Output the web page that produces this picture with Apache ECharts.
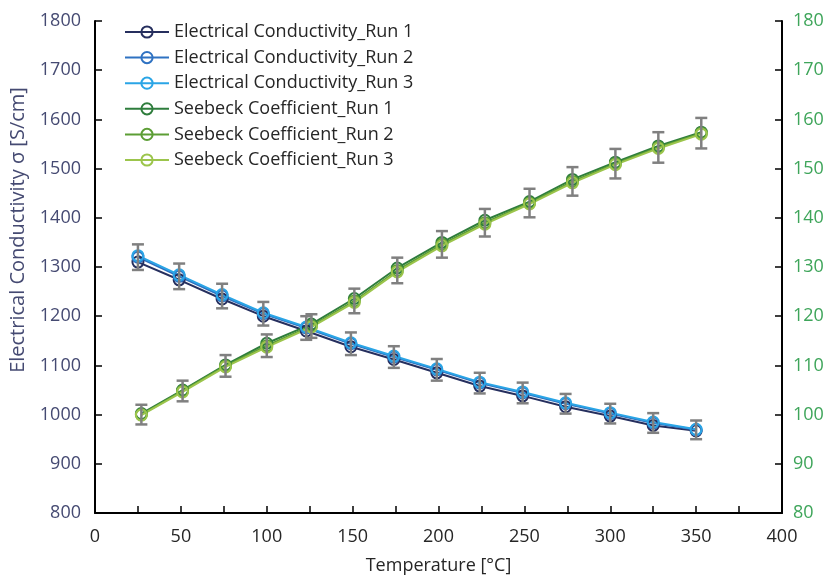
<!DOCTYPE html>
<html>
<head>
<meta charset="utf-8">
<script src="https://cdn.jsdelivr.net/npm/echarts@6/dist/echarts.min.js"></script>
<style>
html,body{margin:0;padding:0;background:#fff;}
#chart{width:827px;height:583px;}
</style>
</head>
<body>
<div id="chart"></div>
<script>
// Temperature (°C) for each quantity
var ecTemp = [25, 49, 74, 98, 123, 149, 174, 199, 224, 249, 274, 300, 325, 350];
var sbTemp = [27, 51, 76, 100, 126, 151, 176, 202, 227, 253, 278, 303, 328, 353];

// Electrical conductivity [S/cm]
var ecRun1 = [1310, 1274, 1235, 1200, 1170, 1138, 1112, 1085, 1058, 1038, 1016, 997, 978, 967];
var ecRun2 = [1320, 1281, 1241, 1205, 1176, 1144, 1117, 1091, 1064, 1044, 1022, 1002, 983, 969];
var ecRun3 = [1323, 1284, 1244, 1207, 1178, 1146, 1119, 1093, 1066, 1046, 1024, 1004, 985, 970];
var ecErr  = [26, 26, 25, 24, 24, 23, 22, 22, 21, 21, 20, 20, 20, 19];

// Seebeck coefficient
var sbRun1 = [100.2, 105.0, 110.1, 114.5, 118.4, 123.6, 129.8, 135.0, 139.5, 143.3, 147.8, 151.3, 154.6, 157.4];
var sbRun2 = [100.0, 104.8, 109.9, 114.0, 118.0, 123.1, 129.3, 134.6, 139.0, 143.0, 147.4, 151.0, 154.3, 157.2];
var sbRun3 = [99.9, 104.6, 109.7, 113.7, 117.8, 122.8, 129.0, 134.3, 138.7, 142.8, 147.1, 150.8, 154.1, 157.0];
var sbErr  = [2.0, 2.1, 2.2, 2.3, 2.4, 2.5, 2.6, 2.7, 2.8, 2.9, 2.9, 3.0, 3.1, 3.1];

var seriesNames = [
  'Electrical Conductivity_Run 1', 'Electrical Conductivity_Run 2', 'Electrical Conductivity_Run 3',
  'Seebeck Coefficient_Run 1', 'Seebeck Coefficient_Run 2', 'Seebeck Coefficient_Run 3'
];
var seriesColors = ['#262f5e', '#2f72c2', '#2aa5e6', '#2e7d3c', '#5c9e35', '#9cc54c'];

var FONT = 'Open Sans';
var leftColor = '#454a72';
var rightColor = '#3ea55a';

function pairs(xs, ys) { return xs.map(function (x, i) { return [x, ys[i]]; }); }
function errData(xs, ys, es) { return xs.map(function (x, i) { return [x, ys[i] - es[i], ys[i] + es[i]]; }); }

function lineSeries(idx, xs, ys, axis) {
  return {
    name: seriesNames[idx], type: 'line', yAxisIndex: axis,
    data: pairs(xs, ys),
    symbol: 'circle', symbolSize: 11, showSymbol: true,
    lineStyle: { width: 2, color: seriesColors[idx] },
    itemStyle: { color: 'rgba(255,255,255,0)', borderColor: seriesColors[idx], borderWidth: 2 },
    z: 3, animation: false
  };
}

function errSeries(data, axis) {
  return {
    type: 'custom', yAxisIndex: axis, data: data, z: 5, animation: false,
    renderItem: function (params, api) {
      var x = api.value(0);
      var lo = api.coord([x, api.value(1)]);
      var hi = api.coord([x, api.value(2)]);
      var hw = 6;
      var st = { stroke: '#808080', lineWidth: 2.5 };
      return {
        type: 'group', children: [
          { type: 'line', shape: { x1: hi[0], y1: hi[1], x2: lo[0], y2: lo[1] }, style: st },
          { type: 'line', shape: { x1: hi[0] - hw, y1: hi[1], x2: hi[0] + hw, y2: hi[1] }, style: st },
          { type: 'line', shape: { x1: lo[0] - hw, y1: lo[1], x2: lo[0] + hw, y2: lo[1] }, style: st }
        ]
      };
    }
  };
}

var chart = echarts.init(document.getElementById('chart'));
chart.setOption({
  backgroundColor: '#fff',
  animation: false,
  textStyle: { fontFamily: FONT },
  grid: { left: 91, right: 45, top: 21, bottom: 70 },
  legend: {
    data: seriesNames, orient: 'vertical', left: 119, top: 18,
    itemWidth: 44, itemHeight: 14, itemGap: 7.6,
    textStyle: { fontFamily: FONT, fontSize: 18, color: '#262626' }
  },
  xAxis: {
    type: 'value', min: 0, max: 400, interval: 50,
    name: 'Temperature [°C]', nameLocation: 'middle', nameGap: 44,
    nameTextStyle: { fontFamily: FONT, fontSize: 18, color: '#262626' },
    axisLine: { show: true, onZero: false, lineStyle: { color: '#000', width: 2 } },
    axisTick: { show: true, inside: true, length: 7, lineStyle: { color: '#000', width: 1.5 } },
    minorTick: { show: true, splitNumber: 2, length: 7, lineStyle: { color: '#000', width: 1.5 } },
    axisLabel: { fontFamily: FONT, fontSize: 18, color: '#262626', margin: 15 },
    splitLine: { show: false }
  },
  yAxis: [{
    type: 'value', min: 800, max: 1800, interval: 100, position: 'left',
    name: 'Electrical Conductivity σ [S/cm]', nameLocation: 'middle', nameGap: 67,
    nameTextStyle: { fontFamily: FONT, fontSize: 20, color: leftColor, padding: [0, 0, 0, 74] },
    axisLine: { show: true, lineStyle: { color: '#000', width: 2 } },
    axisTick: { show: true, inside: true, length: 7, lineStyle: { color: '#000', width: 1.5 } },
    axisLabel: { fontFamily: FONT, fontSize: 18, color: leftColor, margin: 14,
      formatter: function (v) { return String(v); } },
    splitLine: { show: false }
  }, {
    type: 'value', min: 80, max: 180, interval: 10, position: 'right',
    axisLine: { show: true, lineStyle: { color: '#000', width: 2 } },
    axisTick: { show: true, inside: true, length: 7, lineStyle: { color: '#000', width: 1.5 } },
    axisLabel: { fontFamily: FONT, fontSize: 18, color: rightColor, margin: 11 },
    splitLine: { show: false }
  }],
  series: [
    lineSeries(0, ecTemp, ecRun1, 0),
    lineSeries(1, ecTemp, ecRun2, 0),
    lineSeries(2, ecTemp, ecRun3, 0),
    lineSeries(3, sbTemp, sbRun1, 1),
    lineSeries(4, sbTemp, sbRun2, 1),
    lineSeries(5, sbTemp, sbRun3, 1),
    errSeries(errData(ecTemp, ecRun2, ecErr), 0),
    errSeries(errData(sbTemp, sbRun2, sbErr), 1)
  ]
});
</script>
</body>
</html>
